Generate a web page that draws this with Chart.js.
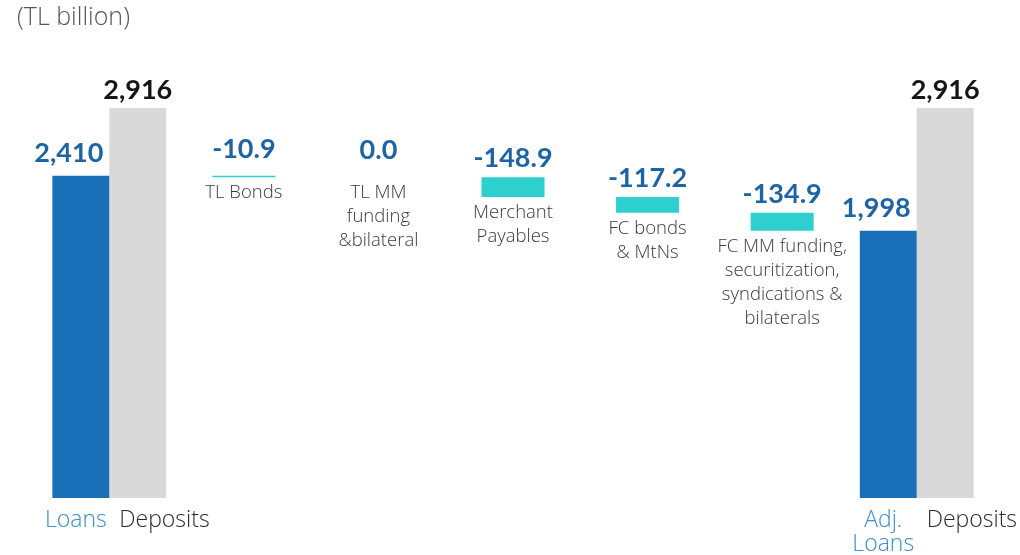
<!DOCTYPE html>
<html>
<head>
<meta charset="utf-8">
<script src="https://cdn.jsdelivr.net/npm/chart.js@4"></script>
<style>
  html, body { margin: 0; background: #fff; }
  #wrap { position: relative; width: 1020px; height: 555px; }
</style>
</head>
<body>
<div id="wrap"><canvas id="funding"></canvas></div>
<script>
// Funding gap bridge: loans vs deposits, adjusted for other funding sources
const categories = [
  'Loans',
  'TL Bonds',
  ['TL MM', 'funding', '&bilateral'],
  ['Merchant', 'Payables'],
  ['FC bonds', '& MtNs'],
  ['FC MM funding,', 'securitization,', 'syndications &', 'bilaterals'],
  ['Adj.', 'Loans']
];
const depositLabel = 'Deposits';
const loans = 2410;
const deposits = 2916;
const changes = [-10.9, 0.0, -148.9, -117.2, -134.9];
const adjLoans = 1998;

const BLUE = '#1a70b8';
const TEAL = '#2ecfcf';
const GREY = '#d9d9d9';

// floating steps walk down from loans to adjusted loans
const steps = [[0, loans]];
let running = loans;
changes.forEach(c => {
  const next = running + c;
  steps.push([next, running]);
  running = next;
});
steps.push([0, adjLoans]);

const depositData = categories.map((c, i) => (i === 0 || i === categories.length - 1) ? deposits : null);
const stepValues = [loans, ...changes, adjLoans];

function fmtValue(v, i) {
  if (i === 0 || i === categories.length - 1) return v.toLocaleString('en-US');
  return v === 0 ? '0.0' : v.toFixed(1);
}

const labelPlugin = {
  id: 'bridgeLabels',
  afterDatasetsDraw(chart) {
    const ctx = chart.ctx;
    const bottom = chart.chartArea.bottom;
    const last = categories.length - 1;
    const main = chart.getDatasetMeta(0).data;
    const deps = chart.getDatasetMeta(1).data;
    ctx.save();

    // title
    ctx.font = '300 25px "Open Sans"';
    ctx.fillStyle = '#555';
    ctx.textAlign = 'left';
    ctx.textBaseline = 'middle';
    ctx.fillText('(TL billion)', 17, 18);

    main.forEach((bar, i) => {
      const p = bar.getProps(['x', 'y', 'base', 'width'], true);
      const top = Math.min(p.y, p.base);
      const low = Math.max(p.y, p.base);
      const edge = i === 0 || i === last;

      // value above the bar
      ctx.font = '700 27px Lato';
      ctx.fillStyle = '#1d64a6';
      ctx.textBaseline = 'alphabetic';
      if (edge) {
        ctx.textAlign = 'right';
        ctx.fillText(fmtValue(stepValues[i], i), p.x + p.width / 2 - 6, top - 14);
      } else {
        ctx.textAlign = 'center';
        ctx.fillText(fmtValue(stepValues[i], i), p.x, top - (Math.abs(stepValues[i]) < 20 ? 18 : 10));
      }

      // category text
      const lines = [].concat(categories[i]);
      ctx.textBaseline = 'middle';
      ctx.textAlign = 'center';
      if (edge) {
        ctx.font = '300 23px "Open Sans"';
        ctx.fillStyle = '#3d8dcf';
        lines.forEach((t, k) => ctx.fillText(t, p.x - 5, bottom + 22 + k * 24));
      } else {
        ctx.font = '300 18.5px "Open Sans"';
        ctx.fillStyle = '#3a3a3a';
        lines.forEach((t, k) => ctx.fillText(t, p.x, low + 16 + k * 24));
      }
    });

    deps.forEach((bar, i) => {
      if (depositData[i] == null) return;
      const p = bar.getProps(['x', 'y', 'width'], true);
      ctx.font = '700 27px Lato';
      ctx.fillStyle = '#151515';
      ctx.textAlign = 'center';
      ctx.textBaseline = 'alphabetic';
      ctx.fillText(depositData[i].toLocaleString('en-US'), p.x, p.y - 9);
      ctx.font = '300 23px "Open Sans"';
      ctx.fillStyle = '#2a2a2a';
      ctx.textAlign = 'left';
      ctx.textBaseline = 'middle';
      ctx.fillText(depositLabel, p.x - p.width / 2 + 10, bottom + 22);
    });
    ctx.restore();
  }
};

new Chart(document.getElementById('funding'), {
  type: 'bar',
  data: {
    labels: categories,
    datasets: [
      {
        label: 'Loans / funding',
        data: steps,
        backgroundColor: steps.map((s, i) => (i === 0 || i === steps.length - 1) ? BLUE : TEAL),
        borderWidth: 0,
        borderSkipped: false
      },
      {
        label: 'Deposits',
        data: depositData,
        backgroundColor: GREY,
        borderWidth: 0
      }
    ]
  },
  options: {
    responsive: true,
    maintainAspectRatio: false,
    animation: false,
    layout: { padding: { left: 42, right: 36, top: 108, bottom: 57 } },
    datasets: {
      bar: {
        categoryPercentage: 0.846,
        barPercentage: 1,
        maxBarThickness: 63,
        skipNull: true
      }
    },
    scales: {
      x: { display: false, offset: true },
      y: { display: false, min: 0, max: deposits }
    },
    plugins: {
      legend: { display: false },
      tooltip: { enabled: false }
    }
  },
  plugins: [labelPlugin]
});
</script>
</body>
</html>
